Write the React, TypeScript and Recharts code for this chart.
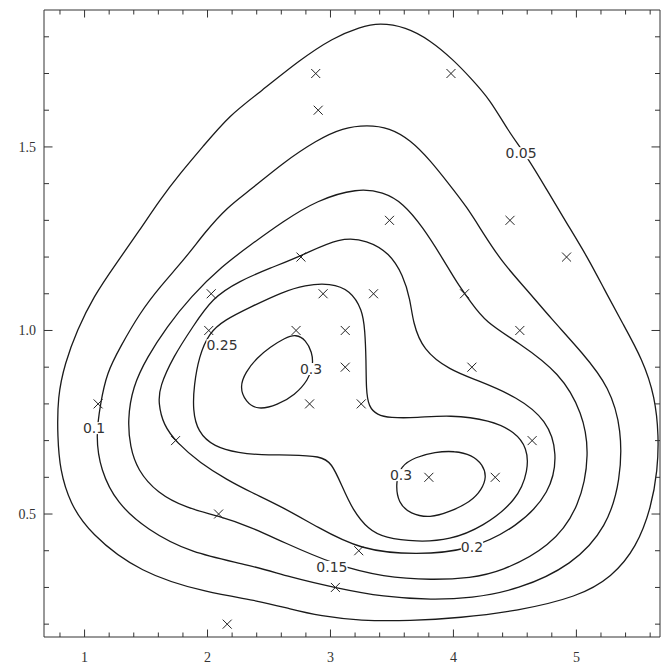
import { ComposedChart, Line, Scatter, XAxis, YAxis } from 'recharts';

type Pt = [number, number];

// sample points (marked with x)
const samplePoints: Pt[] = [
  [2.88, 1.7], [3.98, 1.7], [2.9, 1.6], [3.48, 1.3], [4.46, 1.3], [4.92, 1.2],
  [2.76, 1.2], [2.03, 1.1], [2.94, 1.1], [3.35, 1.1], [4.09, 1.1], [2.01, 1.0],
  [2.72, 1.0], [3.12, 1.0], [4.54, 1.0], [3.12, 0.9], [4.15, 0.9], [1.11, 0.8],
  [2.83, 0.8], [3.25, 0.8], [1.74, 0.7], [4.64, 0.7], [3.8, 0.6], [4.34, 0.6],
  [2.09, 0.5], [3.23, 0.4], [3.04, 0.3], [2.16, 0.2],
];

// contour lines
const contour005: Pt[] = [
  [3.40, 1.838], [3.61, 1.827], [3.81, 1.791], [4.00, 1.737], [4.14, 1.688], [4.30, 1.628],
  [4.44, 1.546], [4.60, 1.473], [4.76, 1.383], [4.92, 1.293], [5.09, 1.200], [5.23, 1.110],
  [5.37, 1.023], [5.54, 0.920], [5.64, 0.819], [5.67, 0.710], [5.66, 0.620], [5.61, 0.519],
  [5.49, 0.410], [5.29, 0.328], [5.01, 0.274], [4.52, 0.236], [4.05, 0.217], [3.65, 0.209],
  [3.24, 0.209], [2.92, 0.222], [2.67, 0.241], [2.43, 0.263], [2.00, 0.285], [1.45, 0.339],
  [1.04, 0.448], [0.88, 0.530], [0.80, 0.620], [0.78, 0.710], [0.78, 0.819], [0.84, 0.911],
  [0.94, 1.001], [1.07, 1.091], [1.26, 1.184], [1.45, 1.274], [1.61, 1.355], [1.78, 1.429],
  [1.96, 1.500], [2.18, 1.587], [2.43, 1.650], [2.75, 1.737], [3.02, 1.797], [3.24, 1.827],
];

const contour010: Pt[] = [
  [3.30, 1.560], [3.48, 1.552], [3.65, 1.519], [3.81, 1.464], [3.97, 1.396], [4.11, 1.336],
  [4.24, 1.266], [4.40, 1.184], [4.60, 1.110], [4.79, 1.034], [5.05, 0.939], [5.27, 0.846],
  [5.37, 0.729], [5.36, 0.593], [5.25, 0.465], [4.97, 0.361], [4.52, 0.293], [4.14, 0.271],
  [3.83, 0.266], [3.43, 0.274], [3.04, 0.299], [2.67, 0.328], [2.35, 0.361], [1.86, 0.394],
  [1.51, 0.457], [1.26, 0.530], [1.13, 0.620], [1.09, 0.710], [1.13, 0.803], [1.18, 0.884],
  [1.29, 0.955], [1.45, 1.048], [1.61, 1.118], [1.82, 1.197], [1.98, 1.268], [2.16, 1.336],
  [2.35, 1.383], [2.61, 1.456], [2.89, 1.519], [3.10, 1.552],
];

const contour015: Pt[] = [
  [3.22, 1.388], [3.43, 1.377], [3.59, 1.347], [3.75, 1.282], [3.92, 1.192], [4.03, 1.129],
  [4.14, 1.078], [4.26, 1.023], [4.52, 0.969], [4.87, 0.884], [5.05, 0.775], [5.11, 0.666],
  [5.03, 0.519], [4.79, 0.410], [4.38, 0.342], [4.14, 0.326], [3.83, 0.320], [3.43, 0.328],
  [3.04, 0.361], [2.61, 0.424], [2.35, 0.465], [2.09, 0.495], [1.83, 0.516], [1.59, 0.557],
  [1.43, 0.620], [1.37, 0.683], [1.35, 0.756], [1.39, 0.846], [1.51, 0.928], [1.67, 1.010],
  [1.86, 1.091], [2.12, 1.176], [2.35, 1.233], [2.61, 1.296], [2.89, 1.355],
];

const contour020: Pt[] = [
  [3.08, 1.255], [3.30, 1.246], [3.48, 1.211], [3.59, 1.151], [3.65, 1.083], [3.67, 1.023],
  [3.75, 0.947], [3.97, 0.892], [4.19, 0.865], [4.52, 0.819], [4.76, 0.756], [4.85, 0.666],
  [4.79, 0.557], [4.52, 0.465], [4.14, 0.402], [3.70, 0.388], [3.24, 0.402], [2.89, 0.465],
  [2.61, 0.519], [2.35, 0.560], [2.16, 0.593], [1.94, 0.639], [1.75, 0.694], [1.64, 0.743],
  [1.60, 0.803], [1.61, 0.846], [1.72, 0.928], [1.88, 1.010], [2.04, 1.089], [2.26, 1.135],
  [2.51, 1.170], [2.76, 1.203],
];

const contour025: Pt[] = [
  [3.00, 1.129], [3.16, 1.110], [3.26, 1.056], [3.28, 1.001], [3.29, 0.920], [3.29, 0.838],
  [3.31, 0.792], [3.38, 0.770], [3.48, 0.762], [3.70, 0.762], [3.97, 0.770], [4.30, 0.756],
  [4.50, 0.724], [4.60, 0.680], [4.61, 0.620], [4.52, 0.538], [4.24, 0.465], [3.97, 0.429],
  [3.70, 0.424], [3.44, 0.435], [3.31, 0.457], [3.18, 0.511], [3.09, 0.579], [3.01, 0.639],
  [2.92, 0.658], [2.67, 0.661], [2.43, 0.661], [2.26, 0.666], [2.05, 0.683], [1.92, 0.724],
  [1.88, 0.783], [1.89, 0.851], [1.93, 0.928], [2.01, 0.993], [2.14, 1.029], [2.35, 1.064],
  [2.61, 1.105], [2.79, 1.124],
];

const contour030a: Pt[] = [
  [2.72, 0.990], [2.80, 0.974], [2.85, 0.941], [2.86, 0.906], [2.82, 0.865], [2.71, 0.824],
  [2.57, 0.797], [2.41, 0.783], [2.31, 0.805], [2.26, 0.846], [2.31, 0.887], [2.40, 0.925],
  [2.51, 0.955], [2.63, 0.980],
];

const contour030b: Pt[] = [
  [3.85, 0.669], [4.01, 0.672], [4.15, 0.661], [4.24, 0.634], [4.27, 0.601], [4.23, 0.566],
  [4.14, 0.533], [3.97, 0.506], [3.81, 0.489], [3.65, 0.500], [3.55, 0.530], [3.53, 0.585],
  [3.57, 0.631], [3.69, 0.655],
];

const contourLabels = [
  { x: 4.55, y: 1.483, text: '0.05' },
  { x: 1.077, y: 0.734, text: '0.1' },
  { x: 3.012, y: 0.356, text: '0.15' },
  { x: 4.151, y: 0.41, text: '0.2' },
  { x: 2.118, y: 0.96, text: '0.25' },
  { x: 2.842, y: 0.895, text: '0.3' },
  { x: 3.574, y: 0.606, text: '0.3' },
];

const xTicks = [
  0.8, 1, 1.2, 1.4, 1.6, 1.8, 2, 2.2, 2.4, 2.6, 2.8, 3, 3.2, 3.4, 3.6, 3.8, 4, 4.2, 4.4, 4.6,
  4.8, 5, 5.2, 5.4, 5.6,
];
const xMajor = [1, 2, 3, 4, 5];
const yTicks = [
  0.2, 0.3, 0.4, 0.5, 0.6, 0.7, 0.8, 0.9, 1.0, 1.1, 1.2, 1.3, 1.4, 1.5, 1.6, 1.7, 1.8,
];
const yMajor = [0.5, 1.0, 1.5];

const xDomain = [0.67, 5.68];
const yDomain = [0.165, 1.873];

const contours = [contour005, contour010, contour015, contour020, contour025, contour030a, contour030b];

const FRAME = '#333';
const serif = '"Liberation Serif", "Times New Roman", serif';

const isMajor = (v: number, majors: number[]) => majors.some((m) => Math.abs(m - v) < 1e-6);

function BottomTick({ x, y, payload }: any) {
  const major = isMajor(payload.value, xMajor);
  return (
    <g>
      <line x1={x} x2={x} y1={y} y2={y - (major ? 7.5 : 4.5)} stroke={FRAME} />
      {major && (
        <text x={x} y={y + 25} textAnchor="middle" fontSize={14} fontFamily={serif} fill="#333">
          {payload.value}
        </text>
      )}
    </g>
  );
}

function TopTick({ x, y, payload }: any) {
  const major = isMajor(payload.value, xMajor);
  return <line x1={x} x2={x} y1={y} y2={y + (major ? 7.5 : 4.5)} stroke={FRAME} />;
}

function LeftTick({ x, y, payload }: any) {
  const major = isMajor(payload.value, yMajor);
  return (
    <g>
      <line x1={x} x2={x + (major ? 8.5 : 5)} y1={y} y2={y} stroke={FRAME} />
      {major && (
        <text x={x - 8} y={y + 5} textAnchor="end" fontSize={14} fontFamily={serif} fill="#333">
          {payload.value.toFixed(1)}
        </text>
      )}
    </g>
  );
}

function RightTick({ x, y, payload }: any) {
  const major = isMajor(payload.value, yMajor);
  return <line x1={x} x2={x - (major ? 8.5 : 5)} y1={y} y2={y} stroke={FRAME} />;
}

function Cross({ cx, cy }: any) {
  const r = 4.5;
  return (
    <g stroke="#222" strokeWidth={1}>
      <line x1={cx - r} y1={cy - r} x2={cx + r} y2={cy + r} />
      <line x1={cx - r} y1={cy + r} x2={cx + r} y2={cy - r} />
    </g>
  );
}

function Nothing() {
  return <g />;
}

function ContourLabel({ cx, cy, payload }: any) {
  const text: string = payload.text;
  const fs = 14;
  let w = 0;
  for (const ch of text) w += ch === '.' ? 0.318 * fs : 0.636 * fs;
  return (
    <g>
      <rect x={cx - w / 2} y={cy - 6} width={w} height={12} fill="#fff" />
      <text
        x={cx}
        y={cy + 5}
        textAnchor="middle"
        fontSize={fs}
        fontFamily='"DejaVu Sans", Verdana, sans-serif'
        fill="#333"
      >
        {text}
      </text>
    </g>
  );
}

export default function App() {
  const markerData = samplePoints.map(([x, y]) => ({ x, y }));
  return (
    <div style={{ background: '#fff' }}>
      <style>{'body{margin:0;background:#fff}'}</style>
      <ComposedChart width={663} height={666} margin={{ top: 9, right: 2, bottom: 0, left: 0 }}>
        <XAxis
          type="number"
          dataKey="x"
          domain={xDomain}
          allowDataOverflow
          ticks={xTicks}
          interval={0}
          tickLine={false}
          tickSize={0}
          tickMargin={0}
          height={29}
          axisLine={{ stroke: FRAME }}
          tick={<BottomTick />}
        />
        <XAxis
          xAxisId="top"
          orientation="top"
          type="number"
          dataKey="x"
          domain={xDomain}
          allowDataOverflow
          ticks={xTicks}
          interval={0}
          tickLine={false}
          tickSize={0}
          tickMargin={0}
          height={1}
          axisLine={{ stroke: FRAME }}
          tick={<TopTick />}
        />
        <YAxis
          type="number"
          dataKey="y"
          domain={yDomain}
          allowDataOverflow
          ticks={yTicks}
          interval={0}
          tickLine={false}
          tickSize={0}
          tickMargin={0}
          width={44}
          axisLine={{ stroke: FRAME }}
          tick={<LeftTick />}
        />
        <YAxis
          yAxisId="right"
          orientation="right"
          type="number"
          dataKey="y"
          domain={yDomain}
          allowDataOverflow
          ticks={yTicks}
          interval={0}
          tickLine={false}
          tickSize={0}
          tickMargin={0}
          width={1}
          axisLine={{ stroke: FRAME }}
          tick={<RightTick />}
        />
        {contours.map((c, i) => (
          <Line
            key={`contour-${i}`}
            data={c.map(([x, y]) => ({ x, y }))}
            dataKey="y"
            type="basisClosed"
            stroke="#1a1a1a"
            strokeWidth={1.3}
            dot={false}
            activeDot={false}
            isAnimationActive={false}
          />
        ))}
        <Scatter data={markerData} shape={<Cross />} isAnimationActive={false} />
        <Scatter data={contourLabels} shape={<ContourLabel />} isAnimationActive={false} />
        {/* keeps the top and right frame axes in use */}
        <Scatter
          xAxisId="top"
          yAxisId="right"
          data={markerData}
          shape={<Nothing />}
          isAnimationActive={false}
        />
      </ComposedChart>
    </div>
  );
}
